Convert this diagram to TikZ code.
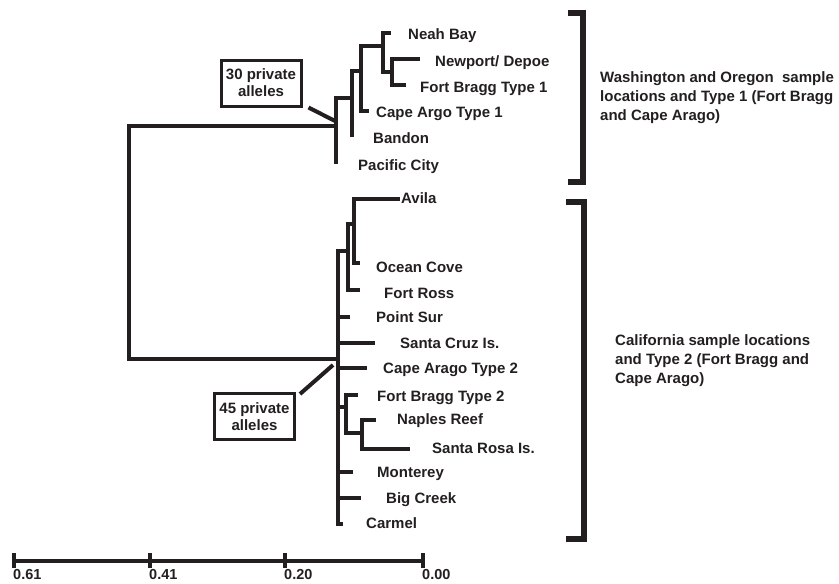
\documentclass[tikz,border=0pt]{standalone}
\usepackage{fontspec}
\setmainfont{Liberation Sans}
\usepackage{tikz}
\usetikzlibrary{positioning}
\definecolor{ink}{RGB}{35,31,32}

\tikzset{
  branch/.style={line width=3.2pt,draw=ink},
  bracket/.style={line width=5.5pt,draw=ink},
  callout/.style={line width=4pt,draw=ink},
  leaf/.style={anchor=west,inner sep=0pt,text height=10.7pt,text depth=0pt,
    text=ink,font=\fontsize{15}{18}\selectfont\bfseries},
  groupnote/.style={anchor=west,inner sep=0pt,align=left,text=ink,
    font=\fontsize{15}{19}\selectfont\bfseries},
  allelebox/.style={draw=ink,line width=3pt,minimum width=80pt,minimum height=46pt,
    inner sep=0pt,align=center,text=ink,font=\fontsize{15}{17}\selectfont\bfseries},
  scalelabel/.style={anchor=west,inner sep=0pt,text=ink,
    font=\fontsize{14.5}{16}\selectfont\bfseries}
}

\begin{document}
\begin{tikzpicture}[x=1pt,y=-1pt]
\useasboundingbox (0,0) rectangle (839,584);
% root
\coordinate (root) at (129,242);
\coordinate (u1) at (336,126);
\coordinate (l1) at (338,359);
\draw[branch] (u1) -| (root) |- (l1);
% upper clade
\coordinate (u2) at (352,98);
\coordinate (u3) at (361,71);
\coordinate (u4) at (383,46);
\coordinate (u5) at (392,72);
\coordinate (pacific) at (336,164);
\coordinate (bandon) at (352,137);
\coordinate (cape1) at (369,111);
\coordinate (neah) at (391,33);
\coordinate (newport) at (420,59);
\coordinate (bragg1) at (406,85);
\draw[branch] (pacific) -- (u1) |- (u2);
\draw[branch] (bandon) -- (u2) |- (u3);
\draw[branch] (cape1) -| (u3) |- (u4);
\draw[branch] (neah) -| (u4) |- (u5);
\draw[branch] (newport) -| (u5) |- (bragg1);
% lower clade
\coordinate (ltop) at (338,251);
\coordinate (l2) at (348,251);
\coordinate (l3) at (354,224);
\coordinate (l4) at (346,407);
\coordinate (l5) at (362,433);
\coordinate (avila) at (400,199);
\coordinate (ocean) at (360,263);
\coordinate (ross) at (360,290);
\coordinate (sur) at (350,317);
\coordinate (cruz) at (375,343);
\coordinate (cape2) at (367,368);
\coordinate (bragg2) at (358,395);
\coordinate (naples) at (376,420);
\coordinate (rosa) at (410,449);
\coordinate (monterey) at (353,472);
\coordinate (bigcreek) at (361,498);
\coordinate (carmel) at (343,524);
\draw[branch] (l2) -- (ltop) -- (l1) |- (carmel);
\foreach \tip in {sur,cruz,cape2,l4,monterey,bigcreek}
  \draw[branch] (l1 |- \tip) -- (\tip);
\draw[branch] (avila) -| (l3) |- (ocean);
\draw[branch] (l3) -| (l2) |- (ross);
\draw[branch] (bragg2) -| (l4) |- (l5);
\draw[branch] (naples) -| (l5) |- (rosa);
% leaf names
\node[leaf] (neahL) at (408,34) {Neah Bay};
\node[leaf] (newportL) at (435,61) {Newport/ Depoe};
\node[leaf] (bragg1L) at (420,87) {Fort Bragg Type 1};
\node[leaf] (cape1L) at (376,112) {Cape Argo Type 1};
\node[leaf] (bandonL) at (373,138) {Bandon};
\node[leaf] (pacificL) at (358,165) {Pacific City};
\node[leaf] (avilaL) at (401,198) {Avila};
\node[leaf] (oceanL) at (376,267) {Ocean Cove};
\node[leaf] (rossL) at (384,293) {Fort Ross};
\node[leaf] (surL) at (376,317) {Point Sur};
\node[leaf] (cruzL) at (400,343) {Santa Cruz Is.};
\node[leaf] (cape2L) at (383,368) {Cape Arago Type 2};
\node[leaf] (bragg2L) at (377,396) {Fort Bragg Type 2};
\node[leaf] (naplesL) at (397,419) {Naples Reef};
\node[leaf] (rosaL) at (432,448) {Santa Rosa Is.};
\node[leaf] (montereyL) at (377,472) {Monterey};
\node[leaf] (bigcreekL) at (386,498) {Big Creek};
\node[leaf] (carmelL) at (366,523) {Carmel};
% private allele boxes
\node[allelebox] (box30) at (261,83) {30 private\\alleles};
\node[allelebox] (box45) at (254.5,416.5) {45 private\\alleles};
\coordinate (hit30) at (337,122);
\coordinate (hit45) at (333,365);
\draw[callout] ([xshift=6pt]box30.south east) -- (hit30);
\draw[callout] ([xshift=4pt,yshift=-2pt]box45.north east) -- (hit45);
% group brackets
\draw[bracket] (568,13) -| (583,182) -- (568,182);
\draw[bracket] (566,202) -| (584,539) -- (566,539);
\node[groupnote] (northNote) at (600,98) {Washington and Oregon\ \ sample\\locations and Type 1 (Fort Bragg\\and Cape Arago)};
\node[groupnote] (southNote) at (615,361) {California sample locations\\and Type 2 (Fort Bragg and\\Cape Arago)};
% distance scale
\coordinate (s0) at (14,561);
\coordinate (s3) at (423,561);
\draw[branch] (s0) -- (s3);
\foreach \x/\lab in {14/0.61,150/0.41,285/0.20,423/0.00} {
  \draw[branch] (\x,553) -- (\x,568);
  \node[scalelabel] at (\x-1,575) {\lab};
}
\end{tikzpicture}
\end{document}
